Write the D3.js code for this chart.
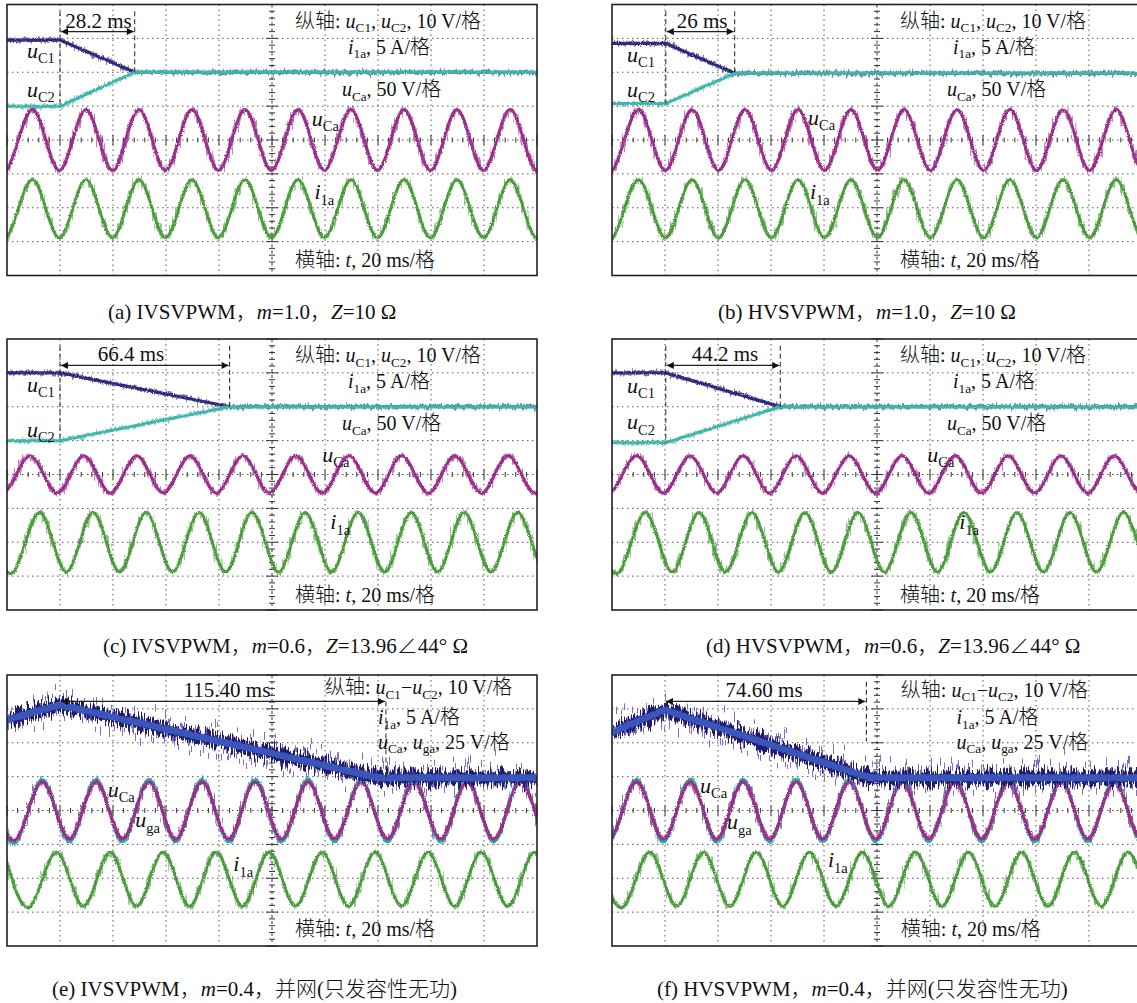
<!DOCTYPE html>
<html>
<head>
<meta charset="utf-8">
<script src="https://cdn.jsdelivr.net/npm/d3@7"></script>
<style>
  body { margin: 0; background: #fff; }
  svg { display: block; }
  text { white-space: pre; }
</style>
</head>
<body>
<script>
const W = 1137, H = 1003;
const fontFam = "'Liberation Serif','Times New Roman','Noto Sans CJK SC',serif";

// panel frames (6 scope shots)
const panelX = [7, 612, 7, 612, 7, 612];
const panelY = [4.5, 4.5, 339, 339, 675, 675];
const panelW = 530, panelH = 271;
const tDomain = [0, 200];   // ms, 10 div x 20 ms
const vDomain = [-4, 4];    // divisions

// captions
const captions = [
  "(a) IVSVPWM，*m*=1.0，*Z*=10 Ω",
  "(b) HVSVPWM，*m*=1.0，*Z*=10 Ω",
  "(c) IVSVPWM，*m*=0.6，*Z*=13.96∠44° Ω",
  "(d) HVSVPWM，*m*=0.6，*Z*=13.96∠44° Ω",
  "(e) IVSVPWM，*m*=0.4，并网(只发容性无功)",
  "(f) HVSVPWM，*m*=0.4，并网(只发容性无功)"
];
const captionX = [108, 718, 103, 706, 52, 657];
const captionY = [319, 319, 653, 653, 996, 996];

// capacitor voltages, breakpoints [ms, div]
const uC1A = [[0, 2.95], [20, 2.95], [48.2, 2.0], [200, 2.0]];
const uC2A = [[0, 1.0], [20, 1.0], [48.2, 2.0], [200, 2.0]];
const uC1B = [[0, 2.85], [20.3, 2.85], [46.3, 1.97], [200, 1.97]];
const uC2B = [[0, 1.08], [20.3, 1.08], [46.3, 1.97], [200, 1.97]];
const uC1C = [[0, 3.0], [20, 3.0], [84, 2.0], [200, 2.0]];
const uC2C = [[0, 1.0], [20, 1.0], [84, 2.0], [200, 2.0]];
const uC1D = [[0, 3.0], [20.3, 3.0], [63.5, 2.0], [200, 2.0]];
const uC2D = [[0, 0.94], [20.3, 0.94], [63.5, 2.0], [200, 2.0]];
const diffE = [[0, 2.68], [20, 3.12], [140, 0.97], [200, 0.97]];
const diffF = [[0, 2.32], [20, 2.97], [97, 0.97], [200, 0.97]];
const upperTraces = [uC1A, uC1B, uC1C, uC1D, null, null];
const lowerTraces = [uC2A, uC2B, uC2C, uC2D, null, null];
const diffTraces = [null, null, null, null, diffE, diffF];

// ac waveforms: amplitude (div), centre (div), first peak (ms)
const uCaAmp = [0.9, 0.9, 0.55, 0.55, 0.84, 0.84];
const uCaMid = [0, 0, 0, 0, 0, 0];
const uCaPeak = [9.8, 10.2, 9.0, 9.5, 13.6, 9.5];
const ugaAmp = [null, null, null, null, 0.92, 0.92];
const i1aAmp = [0.86, 0.86, 0.88, 0.88, 0.8, 0.8];
const i1aMid = [-2.03, -2.03, -2.0, -2.0, -2.03, -2.03];
const i1aPeak = [9.8, 10.2, 12.5, 12.8, 18.9, 14.5];

// time measurement arrows
const arrowFrom = [20, 20.3, 20, 20.3, 20, 20];
const arrowTo = [48.2, 46.3, 84, 63.5, 143, 96];
const arrowText = ["28.2 ms", "26 ms", "66.4 ms", "44.2 ms", "115.40 ms", "74.60 ms"];
const arrowTextMs = [34.5, 34, 46.8, 42.6, 83, 57.4];
const arrowDiv = [3.2, 3.2, 3.22, 3.22, 3.22, 3.22];
const endMarkTop = [3.8, 3.8, 3.8, 3.8, 3.22, 3.8];
const endMarkBottom = [2.0, 1.97, 2.0, 2.0, 0.97, 2.04];

// scale notes
const notesAD = ["纵轴: *u*_C1_, *u*_C2_, 10 V/格", "*i*_1a_, 5 A/格", "*u*_Ca_, 50 V/格", "横轴: *t*, 20 ms/格"];
const notesEF = ["纵轴: *u*_C1_−*u*_C2_, 10 V/格", "*i*_1a_, 5 A/格", "*u*_Ca_, *u*_ga_, 25 V/格", "横轴: *t*, 20 ms/格"];
const notePosAD = [[108.7, 3.32], [128.7, 2.55], [126.4, 1.3], [108.7, -3.75]];
const notePosE = [[120, 3.44], [140, 2.56], [140, 1.83], [108.7, -3.7]];
const notePosF = [[109, 3.36], [130, 2.56], [130, 1.83], [109, -3.7]];
const noteText = [notesAD, notesAD, notesAD, notesAD, notesEF, notesEF];
const notePos = [notePosAD, notePosAD, notePosAD, notePosAD, notePosE, notePosF];

// trace labels [text, ms, div]
const labelsA = [["*u*_C1_", 7.5, 2.42], ["*u*_C2_", 7.5, 1.27], ["*u*_Ca_", 115, 0.41], ["*i*_1a_", 116, -1.75]];
const labelsB = [["*u*_C1_", 5.7, 2.3], ["*u*_C2_", 5.7, 1.27], ["*u*_Ca_", 74, 0.44], ["*i*_1a_", 74.7, -1.75]];
const labelsC = [["*u*_C1_", 7.5, 2.45], ["*u*_C2_", 7.5, 1.12], ["*u*_Ca_", 119, 0.38], ["*i*_1a_", 122, -1.62]];
const labelsD = [["*u*_C1_", 5.7, 2.42], ["*u*_C2_", 5.7, 1.33], ["*u*_Ca_", 119, 0.38], ["*i*_1a_", 131, -1.62]];
const labelsE = [["*u*_Ca_", 38, 0.41], ["*u*_ga_", 48.4, -0.5], ["*i*_1a_", 85.4, -1.8]];
const labelsF = [["*u*_Ca_", 33.2, 0.53], ["*u*_ga_", 43.4, -0.56], ["*i*_1a_", 81.5, -1.68]];
const traceLabels = [labelsA, labelsB, labelsC, labelsD, labelsE, labelsF];

const col = {
  uC1: "#2f2b7e", uC2: "#3fb5aa", uCa: "#9a2d8b", uga: "#2fa89c", i1a: "#4b9b3e",
  band: "#3a55bb", bandDark: "#221e6c", spike: "#7a6fcc", grid: "#555"
};

const svg = d3.select("body").append("svg")
  .attr("width", W).attr("height", H)
  .attr("font-family", fontFam)
  .attr("font-weight", 300);

svg.append("rect").attr("width", W).attr("height", H).attr("fill", "#fff");

const defs = svg.append("defs");
function noiseFilter(id, freq, scale, seed, oct) {
  const f = defs.append("filter").attr("id", id)
    .attr("filterUnits", "userSpaceOnUse")
    .attr("x", 0).attr("y", 0).attr("width", W).attr("height", H);
  f.append("feTurbulence").attr("type", "fractalNoise")
    .attr("baseFrequency", freq).attr("numOctaves", oct || 2).attr("seed", seed).attr("result", "n");
  f.append("feDisplacementMap").attr("in", "SourceGraphic").attr("in2", "n")
    .attr("scale", scale).attr("xChannelSelector", "R").attr("yChannelSelector", "G");
}
noiseFilter("fuzz", "0.9 0.9", 3, 2);
noiseFilter("fuzzWide", "0.5 0.06", 10, 5);
noiseFilter("bandFuzz", "0.7 0.05", 26, 7, 1);
noiseFilter("spikes", "0.9 0.01", 80, 9, 1);

const arrowHead = defs.append("marker").attr("id", "ah")
  .attr("viewBox", "0 0 10 10").attr("refX", 10).attr("refY", 5)
  .attr("markerWidth", 10).attr("markerHeight", 7).attr("orient", "auto-start-reverse")
  .attr("markerUnits", "userSpaceOnUse");
arrowHead.append("path").attr("d", "M0,0L10,5L0,10Z").attr("fill", "#111");

function rich(sel, str, x, y, size, anchor) {
  const t = sel.append("text").attr("x", x).attr("y", y)
    .attr("font-size", size).attr("fill", "#111")
    .attr("text-anchor", anchor || "start");
  const parts = str.split(/(\*[^*]+\*|_[^_]+_)/).filter(s => s.length);
  const shift = size * 0.24;
  let down = false;
  parts.forEach(p => {
    const ts = t.append("tspan");
    if (p[0] === "_") {
      ts.attr("font-size", size * 0.66).attr("dy", down ? 0 : shift).text(p.slice(1, -1));
      down = true;
    } else {
      if (down) ts.attr("dy", -shift);
      down = false;
      if (p[0] === "*") ts.attr("font-style", "italic").text(p.slice(1, -1));
      else ts.text(p);
    }
  });
  return t;
}

const sineExtremes = (amp, mid, peak) =>
  d3.range(peak - 20, tDomain[1] + 21, 10).map((t, k) => [t, mid + (k % 2 ? -amp : amp)]);

d3.range(6).forEach(i => {
  const px = panelX[i], py = panelY[i];
  const x = d3.scaleLinear().domain(tDomain).range([px, px + panelW]);
  const y = d3.scaleLinear().domain(vDomain).range([py + panelH, py]);
  const g = svg.append("g");

  defs.append("clipPath").attr("id", "clip" + i)
    .append("rect").attr("x", px).attr("y", py).attr("width", panelW).attr("height", panelH);

  // dotted grid
  const xTicks = d3.range(tDomain[0] + 20, tDomain[1], 20).filter(t => t !== 100);
  const yTicks = d3.range(-3, 4).filter(v => v !== 0);
  g.selectAll(".gx").data(xTicks).join("line")
    .attr("x1", d => x(d)).attr("x2", d => x(d)).attr("y1", py).attr("y2", py + panelH)
    .attr("stroke", col.grid).attr("stroke-width", 1).attr("stroke-dasharray", "1.5,3.5");
  g.selectAll(".gy").data(yTicks).join("line")
    .attr("x1", px).attr("x2", px + panelW).attr("y1", d => y(d)).attr("y2", d => y(d))
    .attr("stroke", col.grid).attr("stroke-width", 1).attr("stroke-dasharray", "1.5,3.5");

  // centre cross with minor ticks
  const xc = x(100), yc = y(0);
  g.append("line").attr("x1", xc).attr("x2", xc).attr("y1", py).attr("y2", py + panelH)
    .attr("stroke", "#333").attr("stroke-width", 1).attr("stroke-dasharray", "3,3");
  g.append("line").attr("x1", px).attr("x2", px + panelW).attr("y1", yc).attr("y2", yc)
    .attr("stroke", col.grid).attr("stroke-width", 1).attr("stroke-dasharray", "1.5,3.5");
  g.selectAll(".ty").data(d3.range(vDomain[0], vDomain[1] + 0.01, 0.2)).join("line")
    .attr("x1", (d, k) => xc - (k % 5 ? 3 : 6)).attr("x2", (d, k) => xc + (k % 5 ? 3 : 6))
    .attr("y1", d => y(d)).attr("y2", d => y(d))
    .attr("stroke", "#333").attr("stroke-width", 1);
  g.selectAll(".tx").data(d3.range(tDomain[0], tDomain[1] + 0.01, 4)).join("line")
    .attr("x1", d => x(d)).attr("x2", d => x(d))
    .attr("y1", (d, k) => yc - (k % 5 ? 2.5 : 5)).attr("y2", (d, k) => yc + (k % 5 ? 2.5 : 5))
    .attr("stroke", "#333").attr("stroke-width", 1);

  // traces
  const tr = g.append("g").attr("clip-path", `url(#clip${i})`);
  const lin = d3.line().x(d => x(d[0])).y(d => y(d[1]));
  const smooth = d3.line().x(d => x(d[0])).y(d => y(d[1])).curve(d3.curveNatural);

  function fuzzyPath(path, color, w) {
    tr.append("path").attr("d", path).attr("fill", "none")
      .attr("stroke", color).attr("stroke-width", w).attr("stroke-opacity", 0.6)
      .attr("filter", "url(#fuzzWide)");
    tr.append("path").attr("d", path).attr("fill", "none")
      .attr("stroke", color).attr("stroke-width", w).attr("filter", "url(#fuzz)");
  }

  if (ugaAmp[i]) fuzzyPath(smooth(sineExtremes(ugaAmp[i], uCaMid[i], uCaPeak[i])), col.uga, 3);
  fuzzyPath(smooth(sineExtremes(uCaAmp[i], uCaMid[i], uCaPeak[i])), col.uCa, 3);
  fuzzyPath(smooth(sineExtremes(i1aAmp[i], i1aMid[i], i1aPeak[i])), col.i1a, 2.8);

  if (upperTraces[i]) {
    fuzzyPath(lin(upperTraces[i]), col.uC1, 3.2);
    fuzzyPath(lin(lowerTraces[i]), col.uC2, 3);
  }
  if (diffTraces[i]) {
    const p = lin(diffTraces[i]);
    tr.append("path").attr("d", p).attr("fill", "none").attr("stroke", col.spike)
      .attr("stroke-width", 6).attr("filter", "url(#spikes)");
    tr.append("path").attr("d", p).attr("fill", "none").attr("stroke", col.bandDark)
      .attr("stroke-width", 13).attr("filter", "url(#bandFuzz)");
    tr.append("path").attr("d", p).attr("fill", "none").attr("stroke", col.band)
      .attr("stroke-width", 7).attr("filter", "url(#fuzz)");
  }

  // frame
  g.append("rect").attr("x", px).attr("y", py).attr("width", panelW).attr("height", panelH)
    .attr("fill", "none").attr("stroke", "#222").attr("stroke-width", 1.6);

  // measurement markers
  const mk = g.append("g").attr("stroke", "#222").attr("stroke-width", 1);
  if (upperTraces[i]) {
    mk.append("line").attr("x1", x(arrowFrom[i])).attr("x2", x(arrowFrom[i]))
      .attr("y1", y(endMarkTop[i])).attr("y2", y(lowerTraces[i][0][1]))
      .attr("stroke-dasharray", "5,3");
  }
  mk.append("line").attr("x1", x(arrowTo[i])).attr("x2", x(arrowTo[i]))
    .attr("y1", y(endMarkTop[i])).attr("y2", y(endMarkBottom[i]))
    .attr("stroke-dasharray", "5,3");
  mk.append("line").attr("x1", x(arrowFrom[i]) + 1).attr("x2", x(arrowTo[i]) - 1)
    .attr("y1", y(arrowDiv[i])).attr("y2", y(arrowDiv[i]))
    .attr("stroke-width", 1.3)
    .attr("marker-start", "url(#ah)").attr("marker-end", "url(#ah)");
  rich(g, arrowText[i], x(arrowTextMs[i]), y(arrowDiv[i]) - 4, 21, "middle");

  // notes
  noteText[i].forEach((s, k) => rich(g, s, x(notePos[i][k][0]), y(notePos[i][k][1]), 20));
  traceLabels[i].forEach(l => rich(g, l[0], x(l[1]), y(l[2]), 22));

  // caption
  rich(svg, captions[i], captionX[i], captionY[i], 21);
});
</script>
</body>
</html>
